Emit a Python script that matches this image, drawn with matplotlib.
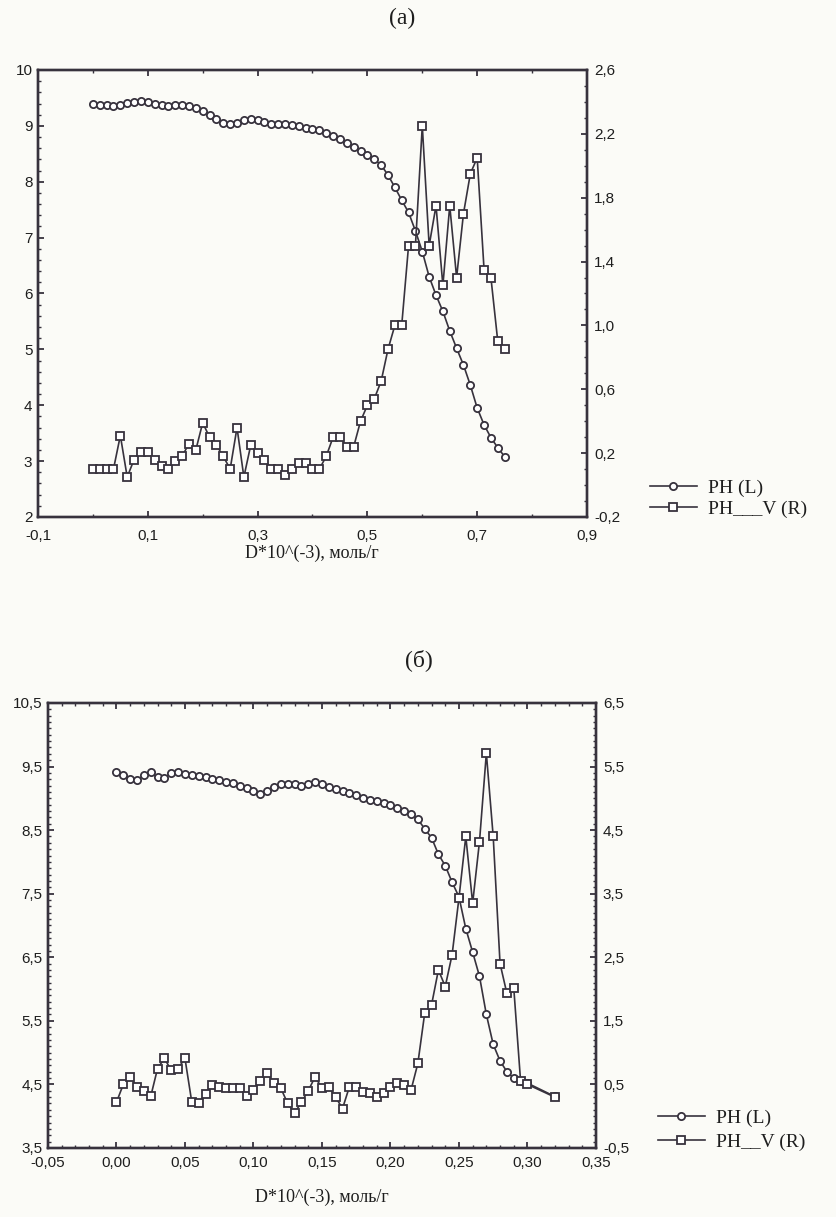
import matplotlib
matplotlib.use("Agg")
import matplotlib.pyplot as plt
from matplotlib.ticker import FixedLocator, MultipleLocator

# ---- panel (a) data ----
x_a = [0.0, 0.0125, 0.025, 0.0375, 0.05, 0.0625, 0.075, 0.0875, 0.1, 0.1125,
       0.125, 0.1375, 0.15, 0.1625, 0.175, 0.1875, 0.2, 0.2125, 0.225, 0.2375,
       0.25, 0.2625, 0.275, 0.2875, 0.3, 0.3125, 0.325, 0.3375, 0.35, 0.3625,
       0.375, 0.3875, 0.4, 0.4125, 0.425, 0.4375, 0.45, 0.4625, 0.475, 0.4875,
       0.5, 0.5125, 0.525, 0.5375, 0.55, 0.5625, 0.575, 0.5875, 0.6, 0.6125,
       0.625, 0.6375, 0.65, 0.6625, 0.675, 0.6875, 0.7, 0.7125, 0.725, 0.7375,
       0.75]
ph_a = [9.40, 9.38, 9.37, 9.35, 9.38, 9.41, 9.43, 9.45, 9.43, 9.40,
        9.38, 9.36, 9.37, 9.38, 9.35, 9.32, 9.27, 9.20, 9.13, 9.06,
        9.03, 9.05, 9.11, 9.13, 9.10, 9.07, 9.04, 9.03, 9.04, 9.02,
        8.99, 8.97, 8.95, 8.92, 8.87, 8.82, 8.76, 8.70, 8.63, 8.55,
        8.48, 8.40, 8.30, 8.12, 7.90, 7.67, 7.45, 7.12, 6.75, 6.30,
        5.97, 5.68, 5.33, 5.02, 4.72, 4.36, 3.95, 3.65, 3.42, 3.24,
        3.08]
phv_a = [0.10, 0.10, 0.10, 0.10, 0.31, 0.05, 0.16, 0.21, 0.21, 0.16,
         0.12, 0.10, 0.15, 0.18, 0.26, 0.22, 0.39, 0.30, 0.25, 0.18,
         0.10, 0.36, 0.05, 0.25, 0.20, 0.16, 0.10, 0.10, 0.06, 0.10,
         0.14, 0.14, 0.10, 0.10, 0.18, 0.30, 0.30, 0.24, 0.24, 0.40,
         0.50, 0.54, 0.65, 0.85, 1.00, 1.00, 1.50, 1.50, 2.25, 1.50,
         1.75, 1.25, 1.75, 1.30, 1.70, 1.95, 2.05, 1.35, 1.30, 0.90,
         0.85]

xt_a = [-0.1, 0.1, 0.3, 0.5, 0.7, 0.9]
xt_a_lab = ["-0,1", "0,1", "0,3", "0,5", "0,7", "0,9"]
yl_a = [2, 3, 4, 5, 6, 7, 8, 9, 10]
yr_a = [-0.2, 0.2, 0.6, 1.0, 1.4, 1.8, 2.2, 2.6]
yr_a_lab = ["-0,2", "0,2", "0,6", "1,0", "1,4", "1,8", "2,2", "2,6"]

# ---- panel (b) data ----
x_b = [0.000, 0.005, 0.010, 0.015, 0.020, 0.025, 0.030, 0.035, 0.040, 0.045,
       0.050, 0.055, 0.060, 0.065, 0.070, 0.075, 0.080, 0.085, 0.090, 0.095,
       0.100, 0.105, 0.110, 0.115, 0.120, 0.125, 0.130, 0.135, 0.140, 0.145,
       0.150, 0.155, 0.160, 0.165, 0.170, 0.175, 0.180, 0.185, 0.190, 0.195,
       0.200, 0.205, 0.210, 0.215, 0.220, 0.225, 0.230, 0.235, 0.240, 0.245,
       0.250, 0.255, 0.260, 0.265, 0.270, 0.275, 0.280, 0.285, 0.290, 0.295,
       0.300, 0.320]
ph_b = [9.42, 9.36, 9.31, 9.29, 9.36, 9.41, 9.33, 9.32, 9.40, 9.42,
        9.38, 9.37, 9.35, 9.34, 9.31, 9.29, 9.26, 9.24, 9.20, 9.17,
        9.12, 9.06, 9.12, 9.18, 9.23, 9.22, 9.23, 9.20, 9.23, 9.25,
        9.22, 9.18, 9.14, 9.11, 9.08, 9.05, 9.00, 8.97, 8.95, 8.92,
        8.89, 8.84, 8.80, 8.76, 8.67, 8.52, 8.38, 8.12, 7.94, 7.68,
        7.45, 6.95, 6.58, 6.20, 5.60, 5.13, 4.87, 4.70, 4.60, 4.55,
        4.52, 4.31]
phv_b = [0.22, 0.50, 0.62, 0.46, 0.40, 0.31, 0.75, 0.91, 0.72, 0.75,
         0.91, 0.22, 0.20, 0.35, 0.49, 0.46, 0.44, 0.44, 0.44, 0.31,
         0.42, 0.55, 0.68, 0.52, 0.44, 0.20, 0.05, 0.22, 0.40, 0.62,
         0.44, 0.46, 0.30, 0.12, 0.46, 0.46, 0.38, 0.36, 0.30, 0.36,
         0.46, 0.52, 0.49, 0.41, 0.83, 1.62, 1.75, 2.30, 2.04, 2.54,
         3.43, 4.40, 3.35, 4.32, 5.71, 4.40, 2.40, 1.93, 2.02, 0.55,
         0.50, 0.30]

xt_b = [-0.05, 0.0, 0.05, 0.10, 0.15, 0.20, 0.25, 0.30, 0.35]
xt_b_lab = ["-0,05", "0,00", "0,05", "0,10", "0,15", "0,20", "0,25", "0,30", "0,35"]
yl_b = [3.5, 4.5, 5.5, 6.5, 7.5, 8.5, 9.5, 10.5]
yl_b_lab = ["3,5", "4,5", "5,5", "6,5", "7,5", "8,5", "9,5", "10,5"]
yr_b = [-0.5, 0.5, 1.5, 2.5, 3.5, 4.5, 5.5, 6.5]
yr_b_lab = ["-0,5", "0,5", "1,5", "2,5", "3,5", "4,5", "5,5", "6,5"]

INK = "#37323d"
BG = "#fbfbf7"
TICKFONT = "Liberation Sans"
TEXTFONT = "Liberation Serif"


def style_axis(ax):
    for sp in ax.spines.values():
        sp.set_linewidth(1.7)
        sp.set_color(INK)
    ax.tick_params(which="both", direction="in", colors=INK, labelcolor="#1e1e1e",
                   labelsize=11)
    ax.tick_params(which="major", length=4, width=1.3)
    ax.tick_params(which="minor", length=2.5, width=1.0)
    for lab in ax.get_xticklabels() + ax.get_yticklabels():
        lab.set_fontfamily(TICKFONT)


def draw_panel(ax, x, ph, phv):
    axr = ax.twinx()
    l1, = ax.plot(x, ph, "-", color=INK, lw=1.2, marker="o", ms=5.2,
                  mfc="white", mec=INK, mew=1.3, zorder=3)
    l2, = axr.plot(x, phv, "-", color=INK, lw=1.2, marker="s", ms=5.4,
                   mfc="white", mec=INK, mew=1.3, zorder=3)
    ax.patch.set_visible(False)
    axr.patch.set_visible(False)
    return axr, l1, l2


def add_legend(handles, labels, x, y, spacing):
    fig.legend(handles, labels, loc="center left", bbox_to_anchor=(x, y),
               frameon=False, prop={"family": TEXTFONT, "size": 14},
               handlelength=2.4, handletextpad=0.6, labelspacing=spacing,
               borderpad=0, borderaxespad=0, labelcolor="#1e1e1e")


fig = plt.figure(figsize=(8.37, 12.17), dpi=100, facecolor=BG)

# ---------- panel (a) ----------
axA = fig.add_axes([0.0454, 0.5752, 0.6559, 0.3673])
axAr, la1, la2 = draw_panel(axA, x_a, ph_a, phv_a)
axA.set_xlim(-0.1, 0.9)
axA.set_ylim(2, 10)
axAr.set_ylim(-0.2, 2.6)
axA.xaxis.set_major_locator(FixedLocator(xt_a))
axA.xaxis.set_minor_locator(FixedLocator([0.0, 0.2, 0.4, 0.6, 0.8]))
axA.set_xticklabels(xt_a_lab)
axA.set_yticks(yl_a)
axA.set_yticklabels([str(v) for v in yl_a])
axA.yaxis.set_minor_locator(MultipleLocator(0.2))
axAr.set_yticks(yr_a)
axAr.set_yticklabels(yr_a_lab)
axAr.yaxis.set_minor_locator(MultipleLocator(0.1))
axA.tick_params(axis="x", which="both", top=True)
axA.tick_params(axis="x", pad=9)
axA.tick_params(axis="y", pad=4)
axAr.tick_params(axis="y", pad=5)
style_axis(axA)
style_axis(axAr)

fig.text(0.48, 0.985, "(a)", fontsize=17, family=TEXTFONT, ha="center", va="center",
         color="#1e1e1e")
fig.text(0.373, 1 - 553 / 1217, "D*10^(-3), моль/г", fontsize=13, family=TEXTFONT,
         ha="center", va="center", color="#1e1e1e")
add_legend([la1, la2], ["PH (L)", "PH___V (R)"], 650 / 837, 1 - 498.5 / 1217, 0.15)

# ---------- panel (b) ----------
axB = fig.add_axes([0.0573, 0.0567, 0.6547, 0.3657])
axBr, lb1, lb2 = draw_panel(axB, x_b, ph_b, phv_b)
axB.set_xlim(-0.05, 0.35)
axB.set_ylim(3.5, 10.5)
axBr.set_ylim(-0.5, 6.5)
axB.set_xticks(xt_b)
axB.set_xticklabels(xt_b_lab)
axB.xaxis.set_minor_locator(MultipleLocator(0.01))
axB.set_yticks(yl_b)
axB.set_yticklabels(yl_b_lab)
axB.yaxis.set_minor_locator(MultipleLocator(0.1))
axBr.set_yticks(yr_b)
axBr.set_yticklabels(yr_b_lab)
axBr.yaxis.set_minor_locator(MultipleLocator(0.1))
axB.tick_params(axis="x", which="both", top=True)
axB.tick_params(axis="x", pad=6)
axB.tick_params(axis="y", pad=4)
axBr.tick_params(axis="y", pad=5)
style_axis(axB)
style_axis(axBr)

fig.text(0.50, 1 - 660 / 1217, "(б)", fontsize=17, family=TEXTFONT, ha="center",
         va="center", color="#1e1e1e")
fig.text(0.385, 1 - 1197 / 1217, "D*10^(-3), моль/г", fontsize=13, family=TEXTFONT,
         ha="center", va="center", color="#1e1e1e")
add_legend([lb1, lb2], ["PH (L)", "PH__V (R)"], 658 / 837, 1 - 1130 / 1217, 0.35)

fig.savefig("out.png", dpi=100, facecolor=BG)
